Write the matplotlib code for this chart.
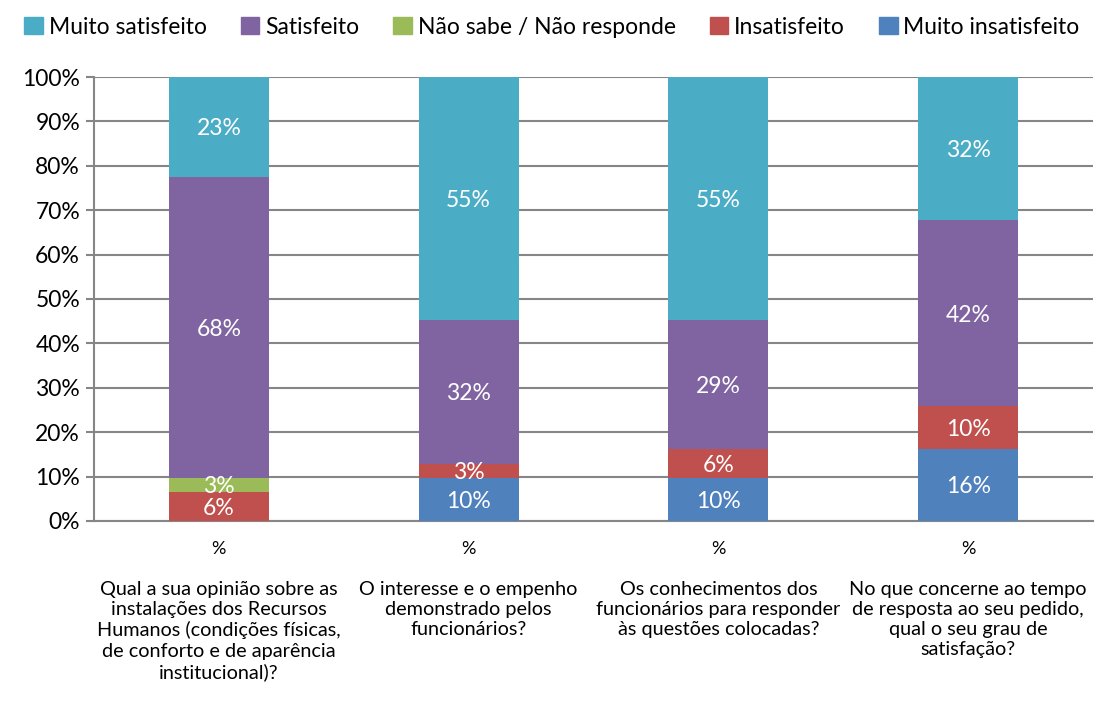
import matplotlib
matplotlib.use("Agg")
import matplotlib.pyplot as plt
from matplotlib.transforms import blended_transform_factory
from matplotlib.patches import Patch

plt.rcParams['font.family'] = ['Lato', 'DejaVu Sans']

categories = [
    "Qual a sua opinião sobre as\ninstalações dos Recursos\nHumanos (condições físicas,\nde conforto e de aparência\ninstitucional)?",
    "O interesse e o empenho\ndemonstrado pelos\nfuncionários?",
    "Os conhecimentos dos\nfuncionários para responder\nàs questões colocadas?",
    "No que concerne ao tempo\nde resposta ao seu pedido,\nqual o seu grau de\nsatisfação?",
]
sub_label = "%"

series_names = ["Muito insatisfeito", "Insatisfeito", "Não sabe / Não responde", "Satisfeito", "Muito satisfeito"]
muito_insatisfeito = [0.0, 9.68, 9.68, 16.13]
insatisfeito = [6.45, 3.23, 6.45, 9.68]
nao_sabe = [3.23, 0.0, 0.0, 0.0]
satisfeito = [67.74, 32.26, 29.03, 41.94]
muito_satisfeito = [22.58, 54.84, 54.84, 32.26]
colors = ["#4F81BD", "#C0504D", "#9BBB59", "#8064A2", "#4BACC6"]

data = [muito_insatisfeito, insatisfeito, nao_sabe, satisfeito, muito_satisfeito]

fig = plt.figure(figsize=(11.04, 7.04), dpi=100)
ax = fig.add_axes([0.0851, 0.26, 0.905, 0.6306])

x = list(range(len(categories)))
bottoms = [0.0] * len(categories)
for vals, name, col in zip(data, series_names, colors):
    ax.bar(x, vals, bottom=bottoms, width=0.4, color=col, label=name, zorder=3)
    for xi, v, b in zip(x, vals, bottoms):
        if v > 0:
            ax.text(xi, b + v / 2 - 0.4, f"{round(v):.0f}%", ha="center", va="center",
                    color="white", fontsize=16.5, zorder=4)
    bottoms = [b + v for b, v in zip(bottoms, vals)]

ax.set_xlim(-0.5, len(categories) - 0.5)
ax.set_ylim(0, 100)
ax.set_yticks(range(0, 101, 10))
ax.set_yticklabels([f"{v}%" for v in range(0, 101, 10)], fontsize=16.5)
ax.yaxis.grid(True, color="#868686", linewidth=1.5, zorder=0)
ax.set_axisbelow(True)
ax.tick_params(axis="y", length=6, width=1.5, color="#868686", pad=4)
ax.set_xticks([])
for s in ["top", "right"]:
    ax.spines[s].set_visible(False)
for s in ["left", "bottom"]:
    ax.spines[s].set_color("#868686")
    ax.spines[s].set_linewidth(1.5)

tr = blended_transform_factory(ax.transData, fig.transFigure)
for xi, cat in zip(x, categories):
    ax.text(xi, 1 - 549 / 704, sub_label, transform=tr, ha="center", va="center", fontsize=13)
    ax.text(xi, 1 - 581 / 704, cat, transform=tr, ha="center", va="top", fontsize=14.3,
            linespacing=1.22)

handles = [Patch(color=c, label=n) for n, c in zip(series_names, colors)]
order = [4, 3, 2, 1, 0]
fig.legend([handles[i] for i in order], [series_names[i] for i in order],
           loc="center", bbox_to_anchor=(0.5, 1 - 27 / 704), ncol=5, frameon=False,
           fontsize=16.5, handlelength=0.8, handleheight=0.8, handletextpad=0.25,
           columnspacing=1.5, borderaxespad=0, borderpad=0)

fig.savefig("out.png", dpi=100)
